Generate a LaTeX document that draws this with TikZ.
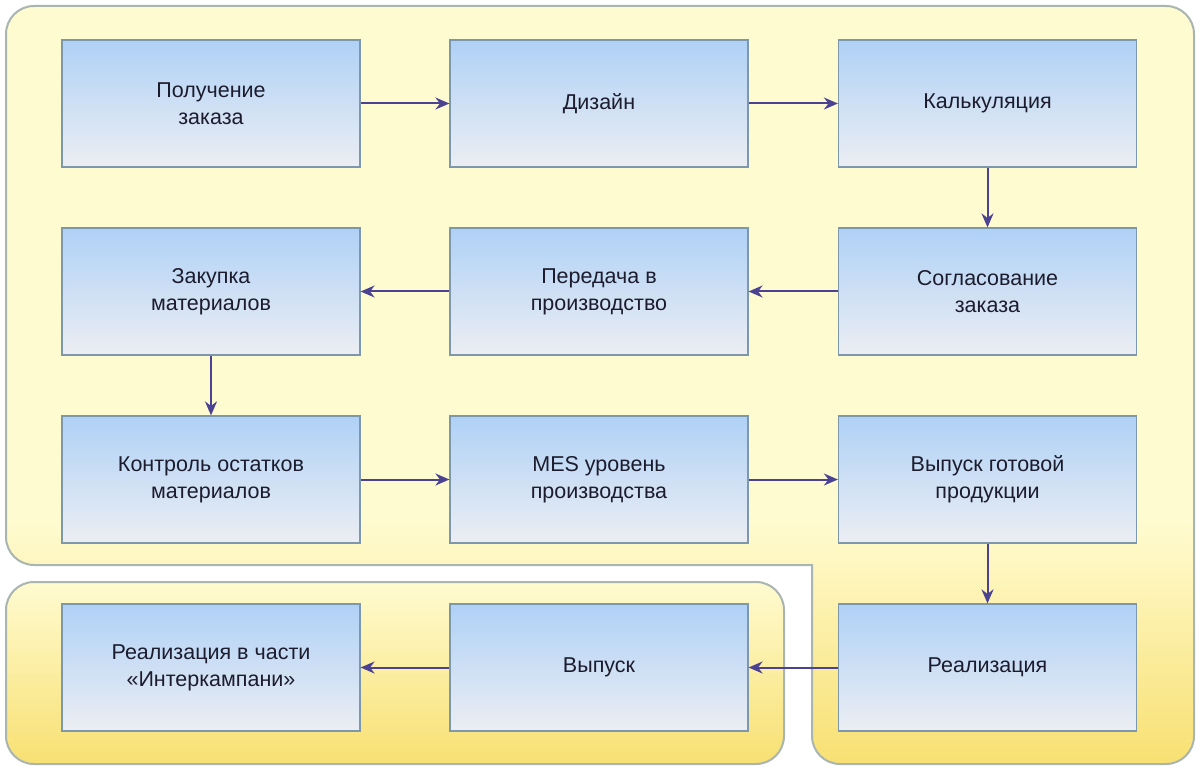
\documentclass[tikz,border=0pt]{standalone}
\usepackage{fontspec}
\setmainfont{Liberation Sans}
\usetikzlibrary{arrows.meta}
\definecolor{ylight}{HTML}{FFFBD0}
\definecolor{ydark}{HTML}{F8E072}
\definecolor{btop}{HTML}{AFD1F6}
\definecolor{bbot}{HTML}{ECEEF3}
\definecolor{bedge}{HTML}{7D98AC}
\definecolor{gedge}{HTML}{A9B5B1}
\definecolor{arr}{HTML}{4B4292}
\definecolor{txt}{HTML}{1C1C2E}
\pgfdeclareverticalshading{lshade}{100bp}{color(0bp)=(ydark); color(25bp)=(ydark); color(41bp)=(ylight); color(100bp)=(ylight)}
\pgfdeclareverticalshading{bshade}{100bp}{color(0bp)=(ydark); color(25bp)=(ydark); color(75bp)=(ylight); color(100bp)=(ylight)}
\tikzset{
  proc/.style={draw=bedge, line width=1.2pt, top color=btop, bottom color=bbot,
    minimum width=298pt, minimum height=127pt, inner sep=0pt,
    text=txt, align=center, font=\fontsize{21.5}{27}\selectfont},
  flow/.style={draw=arr, line width=2pt, -{Stealth[length=14pt,width=12pt]}},
  region/.style={draw=gedge, line width=2pt}
}
\begin{document}
\begin{tikzpicture}[x=1pt,y=-1pt]
\useasboundingbox (0,0) rectangle (1200,770);
\fill[white] (0,0) rectangle (1200,770);
% L-shaped region
\path[region, shading=lshade, rounded corners=28pt, line cap=rect]
  (812,565) -- (6,565) -- (6,6) -- (1194,6) -- (1194,764) -- (812,764) -- (812,565);
% bottom region
\path[region, shading=bshade, rounded corners=28pt] (6,582) rectangle (784,764);
% nodes
\node[proc] (n1) at (211,103.5) {Получение\\заказа};
\node[proc] (n2) at (599,103.5) {Дизайн};
\node[proc] (n3) at (987.5,103.5) {Калькуляция};
\node[proc] (n4) at (987.5,291.5) {Согласование\\заказа};
\node[proc] (n5) at (599,291.5) {Передача в\\производство};
\node[proc] (n6) at (211,291.5) {Закупка\\материалов};
\node[proc] (n7) at (211,479.5) {Контроль остатков\\материалов};
\node[proc] (n8) at (599,479.5) {MES уровень\\производства};
\node[proc] (n9) at (987.5,479.5) {Выпуск готовой\\продукции};
\node[proc] (n10) at (987.5,667.5) {Реализация};
\node[proc] (n11) at (599,667.5) {Выпуск};
\node[proc] (n12) at (211,667.5) {Реализация в части\\«Интеркампани»};
% connectors
\draw[flow] (n1) -- (n2);
\draw[flow] (n2) -- (n3);
\draw[flow] (n3) -- (n4);
\draw[flow] (n4) -- (n5);
\draw[flow] (n5) -- (n6);
\draw[flow] (n6) -- (n7);
\draw[flow] (n7) -- (n8);
\draw[flow] (n8) -- (n9);
\draw[flow] (n9) -- (n10);
\draw[flow] (n10) -- (n11);
\draw[flow] (n11) -- (n12);
\end{tikzpicture}
\end{document}
